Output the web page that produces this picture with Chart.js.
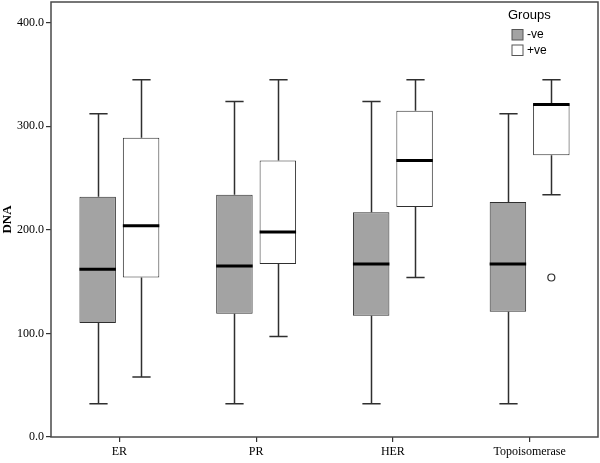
<!DOCTYPE html>
<html>
<head>
<meta charset="utf-8">
<script src="https://cdn.jsdelivr.net/npm/chart.js@4.4.1/dist/chart.umd.min.js"></script>
<style>
  html, body { margin: 0; padding: 0; background: #ffffff; }
  #wrap { width: 600px; height: 463px; }
</style>
</head>
<body>
<div id="wrap"><canvas id="c" width="600" height="463"></canvas></div>
<script>
// ---- data ----
const categories = ['ER', 'PR', 'HER', 'Topoisomerase'];
const groupLabels = ['-ve', '+ve'];

const negMin    = [32, 32, 32, 32];
const negQ1     = [110, 119, 117, 121];
const negMedian = [162, 165, 167, 167];
const negQ3     = [232, 234, 217, 227];
const negMax    = [312, 324, 324, 312];

const posMin    = [58, 97, 154, 234];
const posQ1     = [154, 167, 222, 272];
const posMedian = [204, 198, 267, 321];
const posQ3     = [289, 267, 315, 322];
const posMax    = [345, 345, 345, 345];
const posOutliers = [[], [], [], [154]];
const negOutliers = [[], [], [], []];

const yTicks = [0, 100, 200, 300, 400];

// ---- styling ----
const negFill = '#a3a3a3';
const posFill = '#ffffff';
const lineCol = '#2f2f2f';

const stats = [
  { min: negMin, q1: negQ1, med: negMedian, q3: negQ3, max: negMax, out: negOutliers },
  { min: posMin, q1: posQ1, med: posMedian, q3: posQ3, max: posMax, out: posOutliers }
];

const boxPlugin = {
  id: 'boxParts',
  beforeDatasetsDraw(chart) {
    const ctx = chart.ctx;
    const y = chart.scales.y;
    ctx.save();
    ctx.strokeStyle = lineCol;
    ctx.lineWidth = 1.5;
    stats.forEach((s, di) => {
      const meta = chart.getDatasetMeta(di);
      meta.data.forEach((bar, j) => {
        const cx = Math.round(bar.x) + 0.5;
        const cap = bar.width / 4;
        const yMin = y.getPixelForValue(s.min[j]);
        const yMax = y.getPixelForValue(s.max[j]);
        const yQ1 = y.getPixelForValue(s.q1[j]);
        const yQ3 = y.getPixelForValue(s.q3[j]);
        ctx.beginPath();
        ctx.moveTo(cx, yQ3); ctx.lineTo(cx, yMax);
        ctx.moveTo(cx - cap, yMax); ctx.lineTo(cx + cap, yMax);
        ctx.moveTo(cx, yQ1); ctx.lineTo(cx, yMin);
        ctx.moveTo(cx - cap, yMin); ctx.lineTo(cx + cap, yMin);
        ctx.stroke();
      });
    });
    ctx.restore();
  },
  afterDatasetsDraw(chart) {
    const ctx = chart.ctx;
    const y = chart.scales.y;
    ctx.save();
    stats.forEach((s, di) => {
      const meta = chart.getDatasetMeta(di);
      meta.data.forEach((bar, j) => {
        const half = bar.width / 2;
        const yMed = y.getPixelForValue(s.med[j]);
        ctx.strokeStyle = '#000000';
        ctx.lineWidth = 3;
        ctx.beginPath();
        ctx.moveTo(bar.x - half, yMed); ctx.lineTo(bar.x + half, yMed);
        ctx.stroke();
        s.out[j].forEach(v => {
          ctx.beginPath();
          ctx.arc(bar.x, y.getPixelForValue(v), 3.5, 0, Math.PI * 2);
          ctx.fillStyle = '#ffffff';
          ctx.fill();
          ctx.lineWidth = 1.2;
          ctx.strokeStyle = lineCol;
          ctx.stroke();
        });
      });
    });
    // frame
    const a = chart.chartArea;
    ctx.strokeStyle = '#4a4a4a';
    ctx.lineWidth = 1.5;
    ctx.strokeRect(a.left, a.top, a.right - a.left, a.bottom - a.top);
    // legend
    ctx.fillStyle = '#000000';
    ctx.font = '13px "Liberation Sans", Arial, sans-serif';
    ctx.textBaseline = 'middle';
    ctx.textAlign = 'left';
    ctx.fillText('Groups', 508, 15);
    ctx.font = '12px "Liberation Sans", Arial, sans-serif';
    const fills = [negFill, posFill];
    groupLabels.forEach((lab, i) => {
      const top = 29.5 + i * 15.5;
      ctx.fillStyle = fills[i];
      ctx.fillRect(512, top, 11, 10.5);
      ctx.strokeStyle = '#555555';
      ctx.lineWidth = 1;
      ctx.strokeRect(512, top, 11, 10.5);
      ctx.fillStyle = '#000000';
      ctx.fillText(lab, 527, top + 5.5);
    });
    ctx.restore();
  }
};

new Chart(document.getElementById('c'), {
  type: 'bar',
  data: {
    labels: categories,
    datasets: [
      {
        label: groupLabels[0],
        data: negQ1.map((v, i) => [v, negQ3[i]]),
        backgroundColor: negFill,
        borderColor: lineCol,
        borderWidth: 1,
        borderSkipped: false,
        barPercentage: 0.84,
        categoryPercentage: 0.635
      },
      {
        label: groupLabels[1],
        data: posQ1.map((v, i) => [v, posQ3[i]]),
        backgroundColor: posFill,
        borderColor: lineCol,
        borderWidth: 1,
        borderSkipped: false,
        barPercentage: 0.84,
        categoryPercentage: 0.635
      }
    ]
  },
  options: {
    responsive: false,
    animation: false,
    devicePixelRatio: 1,
    layout: { padding: { top: 2, right: 2, left: 0, bottom: 0 } },
    plugins: {
      legend: { display: false },
      tooltip: { enabled: false }
    },
    scales: {
      x: {
        grid: {
          display: true,
          drawOnChartArea: false,
          drawTicks: true,
          tickLength: 5,
          offset: false,
          color: '#333333',
          lineWidth: 1.2
        },
        border: { display: false },
        ticks: {
          color: '#000000',
          padding: 3,
          font: { family: '"Liberation Serif", "Times New Roman", serif', size: 12 }
        },
        afterFit(scale) {
          scale.height = 26;
          scale.paddingLeft = 0; scale.paddingRight = 0;
        }
      },
      y: {
        min: 0,
        max: 420,
        afterBuildTicks(scale) { scale.ticks = yTicks.map(v => ({ value: v })); },
        grid: {
          display: true,
          drawOnChartArea: false,
          drawTicks: true,
          tickLength: 5,
          color: '#333333',
          lineWidth: 1.2
        },
        border: { display: false },
        ticks: {
          color: '#000000',
          padding: 2,
          callback: v => Number(v).toFixed(1),
          font: { family: '"Liberation Serif", "Times New Roman", serif', size: 12 }
        },
        title: {
          display: true,
          text: 'DNA',
          color: '#000000',
          padding: 0,
          font: { family: '"Liberation Serif", "Times New Roman", serif', size: 13, weight: 'bold' }
        },
        afterFit(scale) {
          scale.width = 51;
          scale.paddingTop = 0; scale.paddingBottom = 0;
        }
      }
    }
  },
  plugins: [boxPlugin]
});
</script>
</body>
</html>
